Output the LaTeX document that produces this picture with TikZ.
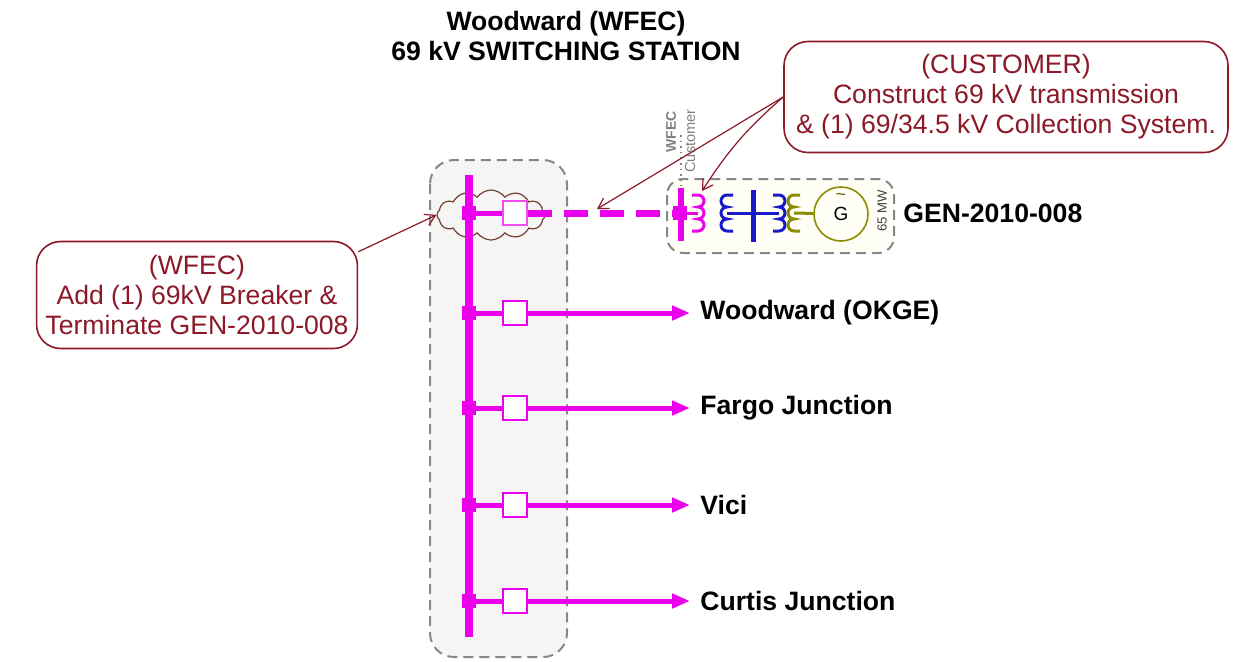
\documentclass[tikz,border=0pt]{standalone}
\usepackage{fontspec}
\setmainfont{Liberation Sans}
\usepackage{tikz}
\usetikzlibrary{arrows.meta,shapes.symbols,positioning}
\definecolor{busmag}{RGB}{235,0,235}
\definecolor{xfblue}{RGB}{25,25,200}
\definecolor{genolive}{RGB}{140,140,0}
\definecolor{notered}{RGB}{140,25,40}
\definecolor{cloudbrown}{RGB}{115,65,50}
\definecolor{framegray}{RGB}{135,135,135}
\definecolor{stationfill}{RGB}{245,245,245}
\tikzstyle{bus}=[busmag, line width=4pt]
\tikzstyle{joint}=[rectangle, fill=busmag, minimum size=7pt, inner sep=0pt]
\tikzstyle{brk}=[rectangle, draw=busmag, fill=white, line width=1pt, minimum size=12pt, inner sep=0pt]
\tikzstyle{feeder}=[busmag, line width=2.5pt]
\tikzstyle{feedarrow}=[feeder, -{Triangle[length=9pt,width=7pt]}]
\tikzstyle{feeddash}=[busmag, line width=3.5pt, dash pattern=on 12pt off 6pt]
\tikzstyle{feedlbl}=[anchor=west, inner sep=5pt, font=\bfseries]
\tikzstyle{frame}=[draw=framegray, fill=stationfill, line width=1pt, dash pattern=on 5pt off 3pt, rounded corners=12pt]
\tikzstyle{callout}=[draw=notered, text=notered, fill=white, line width=0.8pt, rounded corners=12pt, align=center]
\tikzstyle{note}=[notered, line width=0.6pt, -{Straight Barb[length=5pt,width=6pt]}]
\tikzstyle{coil}=[line width=1.5pt]

\begin{document}
\fontsize{13.3}{15}\selectfont
\begin{tikzpicture}[x=0.5pt,y=-0.5pt]
\useasboundingbox (0,0) rectangle (1233,661);
% station and generator frames
\draw[frame] (430,160) rectangle (567,657);
\draw[frame, fill=white!97!yellow, rounded corners=8pt] (667,179) rectangle (894,253);
\node[font=\bfseries, align=center] (title) at (566,36) {Woodward (WFEC)\\69 kV SWITCHING STATION};
\node[cloud, draw=cloudbrown, line width=0.6pt, cloud puffs=12, cloud puff arc=110, aspect=2.4,
      minimum width=54pt, minimum height=25pt, inner sep=0pt] (cloud) at (491,215) {};
% 69 kV bus
\draw[bus] (469,175) -- (469,637);
\node[joint] (j1) at (469,213) {};
\node[brk, draw=busmag!70] (b1) at (515,213) {};
\draw[feeder] (j1) -- (b1);
\foreach \y/\txt [count=\i from 2] in {313/{Woodward (OKGE)},408/{Fargo Junction},505/{Vici},601/{Curtis Junction}}{
  \node[joint] (j\i) at (469,\y) {};
  \node[brk] (b\i) at (515,\y) {};
  \node[feedlbl] (l\i) at (690,\y) {\txt};
  \draw[feeder] (j\i) -- (b\i);
  \draw[feedarrow] (b\i) -- (l\i);
}
% customer side
\draw[busmag, line width=3pt] (681,188) -- (681,241);
\node[joint] (gj) at (680,213) {};
\draw[feeddash] (b1) -- (gj);
\draw[coil, busmag] (gj) -- (698,213);
\draw[coil, busmag] (692,195) -- (698,195)
  arc[start angle=-90,end angle=90,radius=6] arc[start angle=-90,end angle=90,radius=6]
  arc[start angle=-90,end angle=90,radius=6] -- (692,231);
\draw[coil, xfblue] (733,195) -- (727,195)
  arc[start angle=270,end angle=90,radius=6] arc[start angle=270,end angle=90,radius=6]
  arc[start angle=270,end angle=90,radius=6] -- (733,231);
\draw[xfblue, line width=2.5pt] (753,190) -- (753,242);
\draw[coil, xfblue] (727,213) -- (779,213);
\draw[coil, xfblue] (773,195) -- (779,195)
  arc[start angle=-90,end angle=90,radius=6] arc[start angle=-90,end angle=90,radius=6]
  arc[start angle=-90,end angle=90,radius=6] -- (773,231);
\draw[coil, genolive] (800,195) -- (794,195)
  arc[start angle=270,end angle=90,radius=6] arc[start angle=270,end angle=90,radius=6]
  arc[start angle=270,end angle=90,radius=6] -- (800,231);
\node[circle, draw=genolive, line width=0.8pt, minimum size=27pt, inner sep=0pt,
      font=\fontsize{9.5}{10}\selectfont] (gen) at (841,214) {\raisebox{-2.5pt}{G}};
\draw[coil, genolive] (794,213) -- (gen);
\node[text=genolive!70!black, font=\fontsize{9}{9}\selectfont, inner sep=0pt] (tld) at (841,197) {\textasciitilde};
\node[rotate=90, text=darkgray, font=\fontsize{6.6}{7}\selectfont] (mw) at (882,211) {65 MW};
\node[feedlbl, inner sep=3pt] (genlbl) at (897,213) {GEN-2010-008};
% ownership split
\node[rotate=90, text=gray, font=\bfseries\fontsize{7}{8}\selectfont] (own1) at (671,132) {WFEC};
\node[rotate=90, text=gray, font=\fontsize{7.3}{8}\selectfont] (own2) at (690,141) {Customer};
\draw[gray, line width=0.8pt, dotted] (681,135) -- (681,186);
% notes
\node[callout, minimum width=222pt, minimum height=55.5pt] (cus) at (1006,97)
  {(CUSTOMER)\\Construct 69 kV transmission\\\& (1) 69/34.5 kV Collection System.};
\node[callout, minimum width=160pt, minimum height=53.5pt] (wfec) at (197,295)
  {(WFEC)\\Add (1) 69kV Breaker \&\\Terminate GEN-2010-008};
\coordinate (dtip) at (597,209);
\coordinate (xtip) at (702,191);
\draw[note] (cus.west) -- (dtip);
\draw[note] (cus.west) to[bend right=8] (xtip);
\draw[note] (wfec.15) -- (cloud.west);
\end{tikzpicture}
\end{document}
